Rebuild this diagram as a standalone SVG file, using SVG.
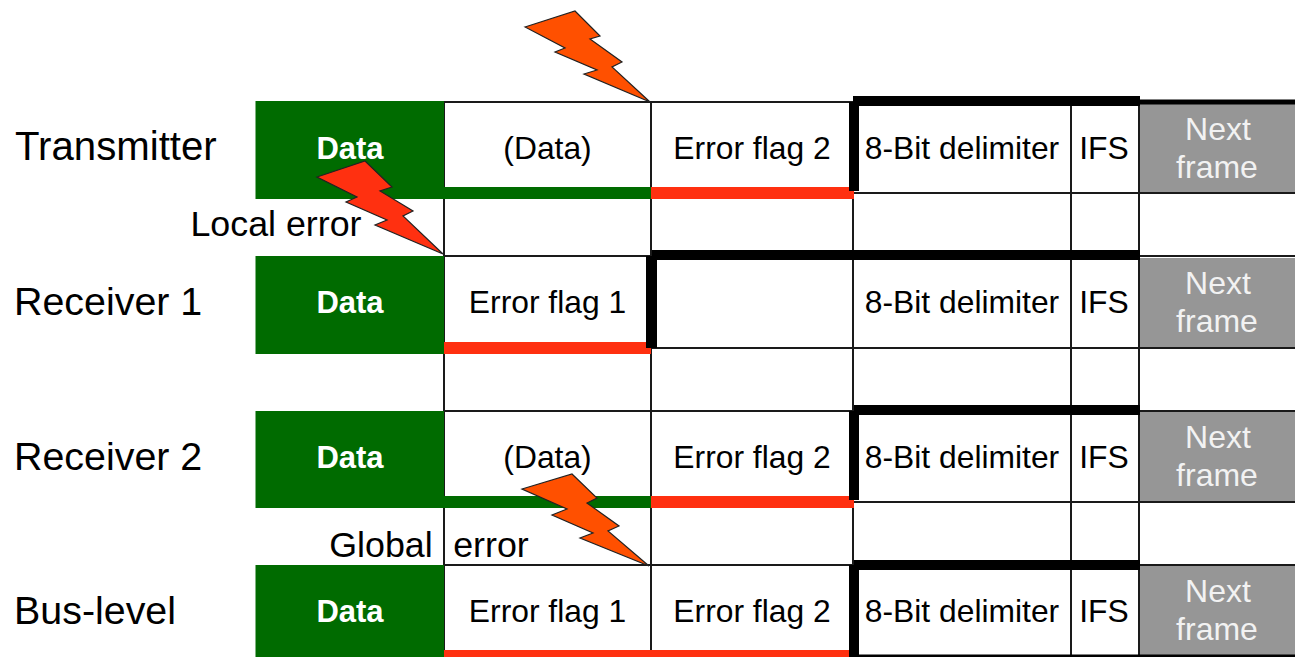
<svg xmlns="http://www.w3.org/2000/svg" width="1295" height="657" viewBox="0 0 1295 657">
<style>
text{font-family:"Liberation Sans",Arial,sans-serif;fill:#000}
.lbl{font-size:39.400px}
.mid{font-size:31.800px;text-anchor:middle}
.err{font-size:35.800px;text-anchor:middle}
.dt{font-size:31px;font-weight:700;fill:#fff;text-anchor:middle}
.nx{font-size:32px;fill:#f2f2f2;text-anchor:middle}
.g{fill:#006b00}.r{fill:#ff3010}.k{fill:#000}.n{fill:#969696}
.l{stroke:#1a1a1a;stroke-width:2;fill:none}
.b1{fill:#ff5000;stroke:#222;stroke-width:1.2}
.b2{fill:#ff3010;stroke:#222;stroke-width:1.2}
</style>
<rect width="1295" height="657" fill="#fff"/>
<g id="grid">
<path class="l" d="M444 102H853M444 256H651M444 411H853M444 565H853M651 102V657M444 102V657M853 193V657M1071 97V657M1139 97V657M853 193H1295M444 348H1295M853 502H1295M1139 256H1295M1139 411H1295M1139 565H1295"/>
</g>
<g id="transmitter">
<text class="lbl" x="15" y="160" style="font-size:40.200px">Transmitter</text>
<rect class="g" x="255.500" y="101" width="188.500" height="98"/>
<text class="dt" x="350" y="159">Data</text>
<text class="mid" x="547.500" y="159">(Data)</text>
<text class="mid" x="752" y="159">Error flag 2</text>
<text class="mid" x="962" y="159">8-Bit delimiter</text>
<text class="mid" x="1104" y="159">IFS</text>
<rect class="n" x="1140" y="104" width="155" height="88"/>
<text class="nx" x="1218" y="140">Next</text>
<text class="nx" x="1217" y="178">frame</text>
<rect class="g" x="444" y="187" width="207" height="12"/>
<rect class="r" x="651" y="187" width="203" height="12"/>
<path class="k" d="M849 102H853V96H1140V99.500H1295V104.500H1140V106H859V191H849Z"/>
</g>
<g id="receiver1">
<text class="lbl" x="14" y="315">Receiver 1</text>
<text class="mid" x="547.500" y="313">Error flag 1</text>
<rect class="g" x="255.500" y="256" width="188.500" height="98"/>
<text class="dt" x="350" y="313">Data</text>
<text class="mid" x="962" y="313">8-Bit delimiter</text>
<text class="mid" x="1104" y="313">IFS</text>
<rect class="n" x="1140" y="258" width="155" height="89"/>
<text class="nx" x="1218" y="294">Next</text>
<text class="nx" x="1217" y="332">frame</text>
<rect class="r" x="444" y="342" width="207" height="12"/>
<path class="k" d="M646 256H652V250H1140V260H657V348H646Z"/>
</g>
<g id="receiver2">
<text class="lbl" x="14" y="470">Receiver 2</text>
<rect class="g" x="255.500" y="411" width="188.500" height="97"/>
<text class="dt" x="350" y="468">Data</text>
<text class="mid" x="547.500" y="468">(Data)</text>
<text class="mid" x="752" y="468">Error flag 2</text>
<text class="mid" x="962" y="468">8-Bit delimiter</text>
<text class="mid" x="1104" y="468">IFS</text>
<rect class="n" x="1140" y="412" width="155" height="89"/>
<text class="nx" x="1218" y="448">Next</text>
<text class="nx" x="1217" y="486">frame</text>
<rect class="g" x="444" y="496" width="207" height="12"/>
<rect class="r" x="651" y="496" width="203" height="12"/>
<path class="k" d="M849 411H854V405H1140V415H859V500H849Z"/>
</g>
<g id="bus-level">
<text class="lbl" x="14" y="624">Bus-level</text>
<rect class="g" x="255.500" y="565" width="188.500" height="92"/>
<text class="dt" x="350" y="622">Data</text>
<text class="mid" x="547.500" y="622">Error flag 1</text>
<text class="mid" x="752" y="622">Error flag 2</text>
<text class="mid" x="962" y="622">8-Bit delimiter</text>
<text class="mid" x="1104" y="622">IFS</text>
<rect class="n" x="1140" y="566" width="155" height="89"/>
<text class="nx" x="1218" y="602">Next</text>
<text class="nx" x="1217" y="640">frame</text>
<rect class="r" x="444" y="650" width="405" height="7"/>
<path class="k" d="M849 565H854V560H1140V570H859V654.500H1295V657H849Z"/>
</g>
<g id="local-error">
<text class="err" x="276" y="236">Local error</text>
<polygon class="b2" points="317,177 365,161 392,187 380,191 413,211 403,216 443,254 375,225 387,220 346,202 357,197"/>
</g>
<g id="global-error">
<text class="err" x="381" y="557">Global</text>
<text class="err" x="491" y="557">error</text>
<polygon class="b1" points="522,489 572,474 597,498 587,503 619,526 608,531 649,566 580,538 593,533 552,515 567,509"/>
</g>
<g id="tx-error">
<polygon class="b1" points="525,27 575,11 600,36 590,39 622,62 612,67 650,102 584,74 597,70 555,52 565,48"/>
</g>
</svg>
